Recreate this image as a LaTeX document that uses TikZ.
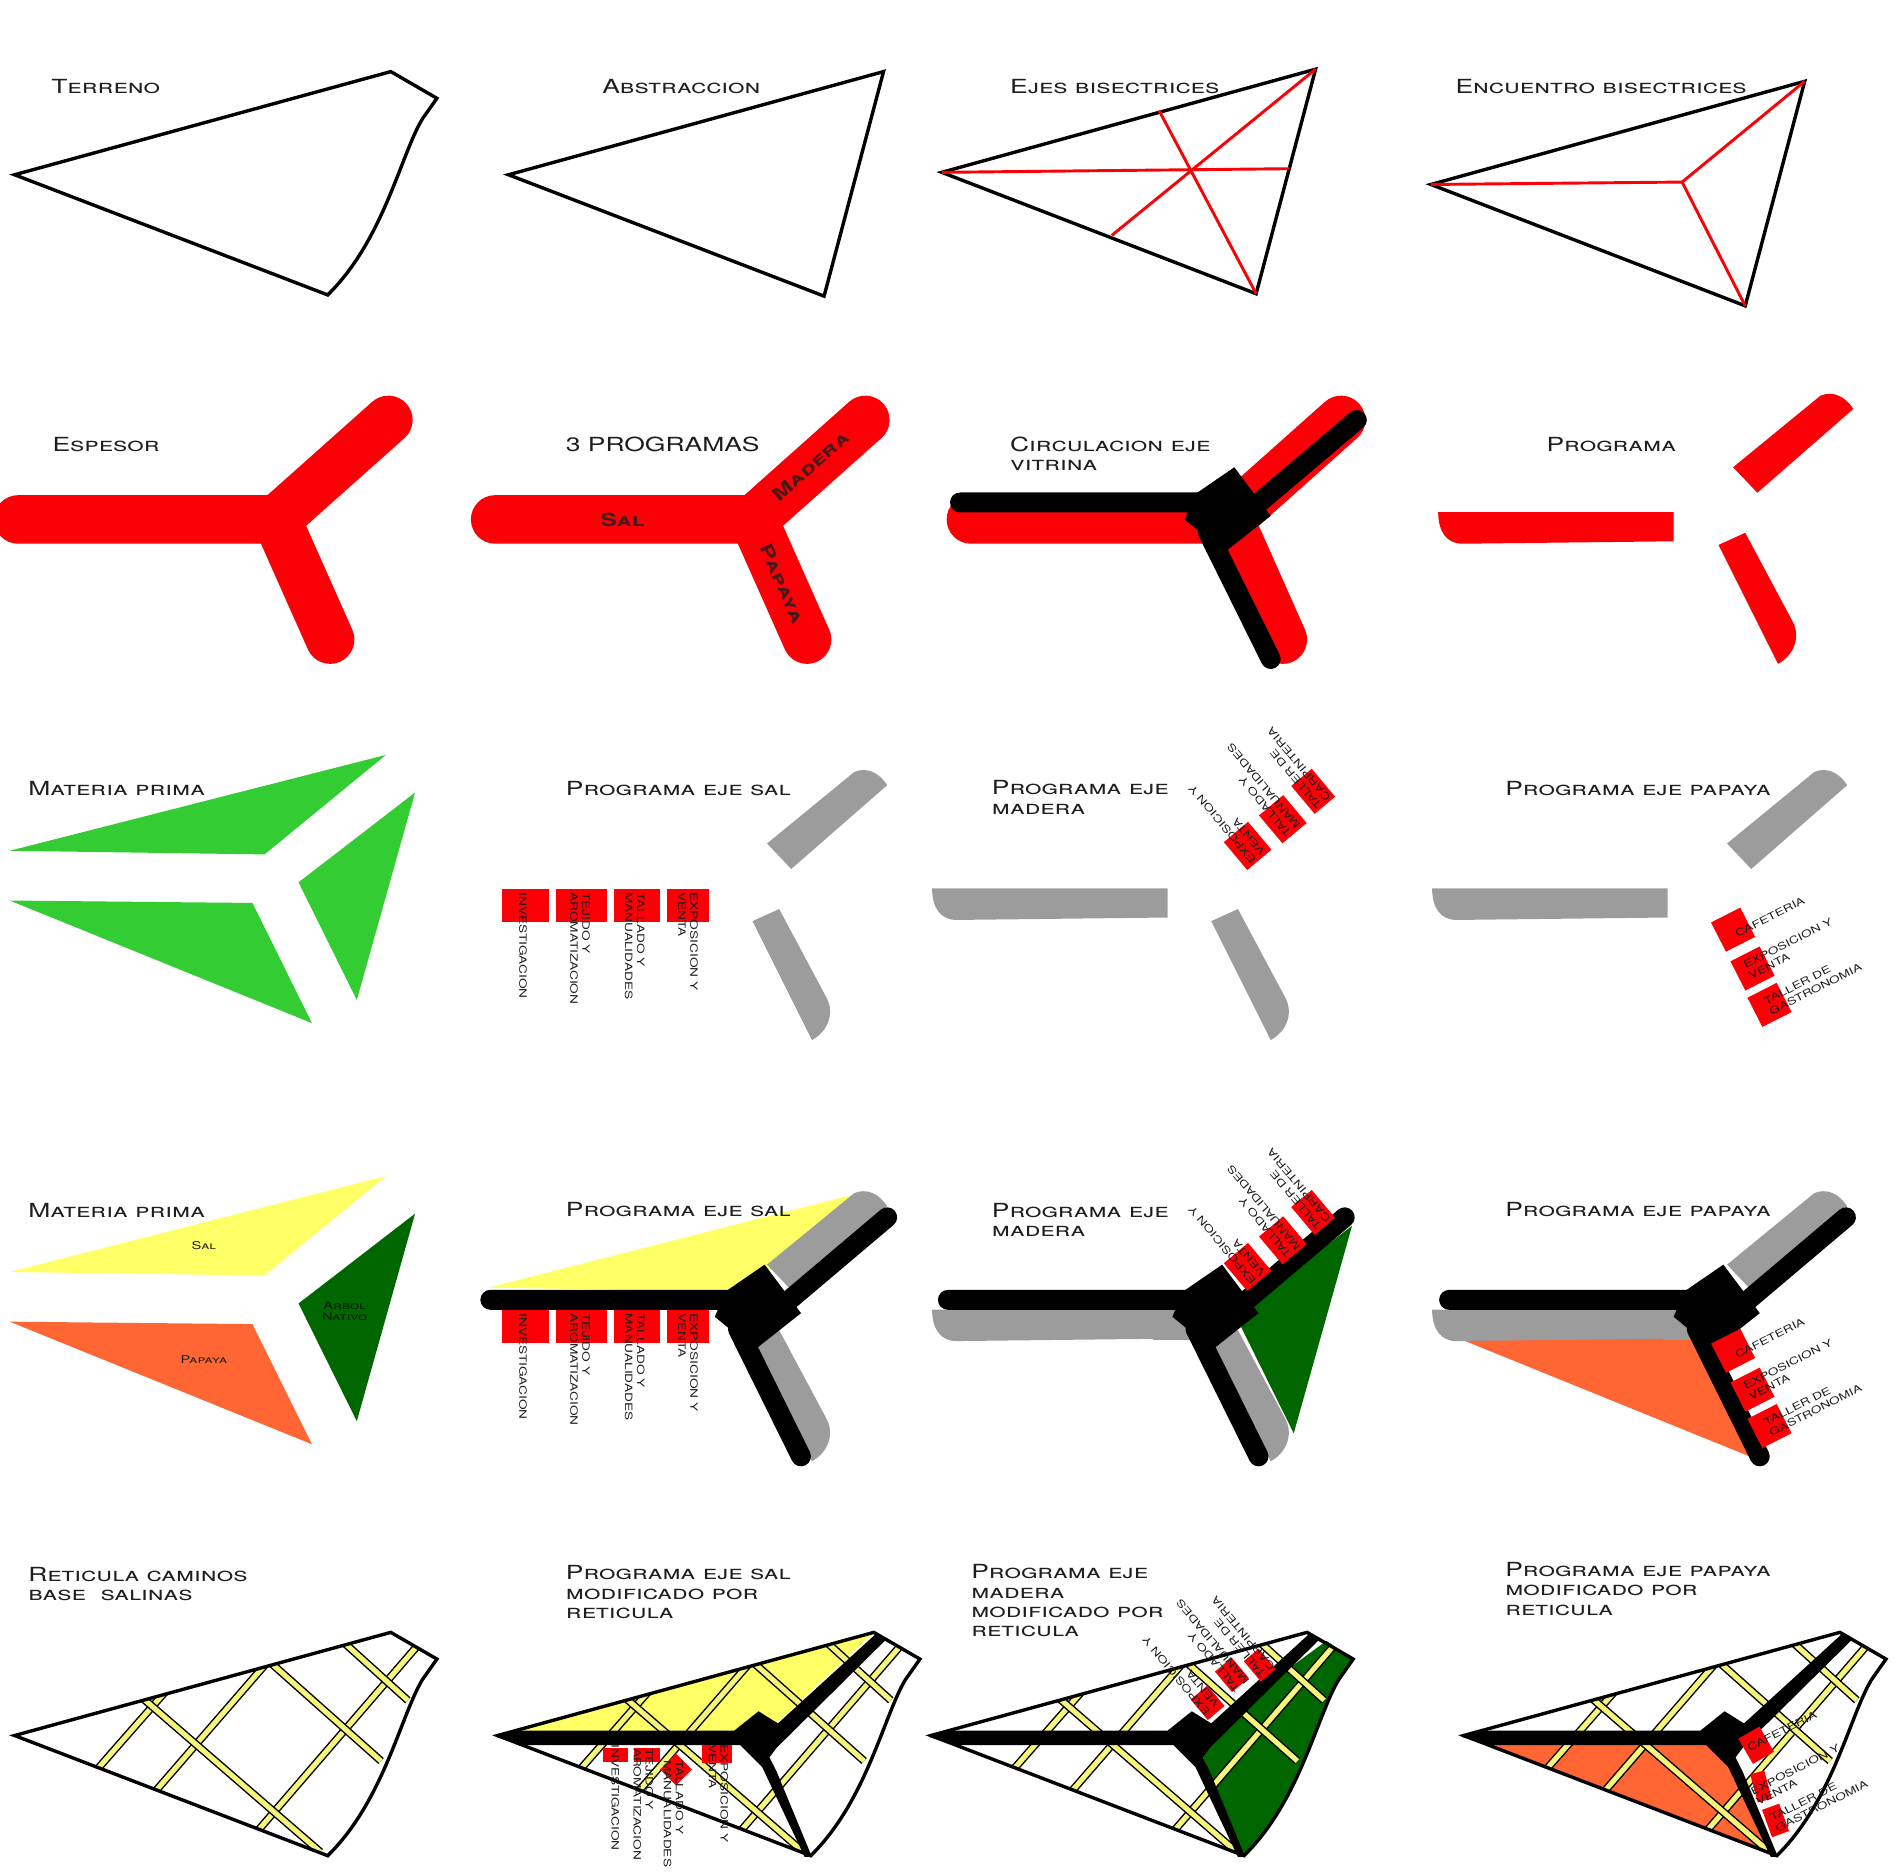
\documentclass[tikz,border=0pt]{standalone}
\usepackage{fontspec}
\usepackage{tikz}
\usetikzlibrary{arrows.meta,positioning}
\newfontfamily\capfont[FakeStretch=1.36]{TeX Gyre Heros}
\definecolor{rojo}{HTML}{FB0006}
\definecolor{gris}{HTML}{9C9C9C}
\definecolor{verde}{HTML}{33CC33}
\definecolor{amarillo}{HTML}{FFFF66}
\definecolor{naranja}{HTML}{FF6633}
\definecolor{verdeosc}{HTML}{006600}
\definecolor{camino}{HTML}{F5F57A}
\definecolor{tinta}{HTML}{1E1E1E}
\tikzset{
  titulo/.style = {font=\capfont\scshape\fontsize{11.4}{11.4}\selectfont, text=tinta,
                   anchor=west, align=left, inner sep=0pt},
  etiq/.style   = {font=\capfont\fontsize{5.9}{7}\selectfont, text=tinta,
                   anchor=west, align=left, inner sep=0pt},
  brazo/.style  = {font=\capfont\scshape\bfseries\fontsize{10.6}{11}\selectfont, text=tinta!80!rojo, inner sep=0pt},
  rotulo/.style = {font=\capfont\scshape\fontsize{6.3}{6.4}\selectfont, text=tinta, align=center, inner sep=0pt},
  cuadro/.style = {fill=rojo, inner sep=0pt},
  borde/.style  = {draw=black, line width=0.7mm, line join=miter},
  eje/.style    = {draw=rojo, line width=0.6mm},
  espesor/.style= {draw=rojo, line width=10mm, line cap=round, line join=round},
  via/.style    = {line width=4.1mm, line cap=round, line join=round, draw=black},
  malla/.style  = {draw=black, line width=0.3mm, double=camino, double distance=1.05mm},
}
% outline of the site, first panel of the last row
\newcommand{\terreno}[1]{\draw[borde,shift={(#1)}] (12,1430) -- (322,1345) -- (360,1367) -- (348,1384)
  .. controls (330,1414) and (316,1484) .. (270,1529) -- cycle;}
\newcommand{\reticula}[1]{\begin{scope}[shift={(#1)}]
  \clip (12,1430) -- (322,1345) -- (360,1367) -- (348,1384)
    .. controls (330,1414) and (316,1484) .. (270,1529) -- cycle;
  \foreach \xa/\ya/\xb/\yb in {137/1393/80/1458, 219/1371/128/1476, 344/1356/212/1509,
                               115/1397/264/1526, 223/1370/314/1451, 283/1353/336/1401}
    \draw[malla] (\xa,\ya) -- (\xb,\yb);
  \end{scope}}
\newcommand{\yforma}[1]{\draw[espesor,shift={(#1,0)}] (15,428) -- (228,428) -- (320,346) (228,428) -- (272,527);}
\newcommand{\circulacion}[1]{\begin{scope}[shift={(#1)}]
  \draw[via] (404,1071) -- (605,1071) (640,1080) -- (731,1003) (608,1095) -- (660,1200);
  \fill[black] (630,1042) -- (660,1082) -- (622,1112) -- (589,1085) -- (598,1064) -- cycle;
  \end{scope}}
\newcommand{\vialb}[1]{\fill[black,shift={(#1,0)}] (408,1431) -- (425,1426) -- (605,1426) -- (625,1410) -- (641,1420)
  -- (722,1346) -- (731,1350) -- (640,1440) -- (634,1448) -- (640,1460) -- (669,1530) -- (663,1530)
  -- (628,1456) -- (610,1438) -- (430,1438) -- cycle;}
\newcommand{\pzsal}[2]{\fill[#1,shift={(#2)}] (1185,422) -- (1379,422) -- (1379,446) -- (1205,448)
  .. controls (1192,448) and (1185,438) .. (1185,422) -- cycle;}
\newcommand{\pzmad}[2]{\fill[#1,shift={(#2)}] (1428,385) -- (1500,326) .. controls (1510,322) and (1520,326)
  .. (1527,337) -- (1448,406) -- cycle;}
\newcommand{\pzpap}[2]{\fill[#1,shift={(#2)}] (1416,449) -- (1438,439) -- (1477,512) .. controls (1484,525)
  and (1478,540) .. (1465,547) -- cycle;}
\newcommand{\trisal}[2]{\fill[#1,shift={(#2)}] (8,701) -- (318,622) -- (218,704) -- cycle;}
\newcommand{\tripap}[2]{\fill[#1,shift={(#2)}] (8,742) -- (208,744) -- (257,843) -- cycle;}
\newcommand{\trimad}[2]{\fill[#1,shift={(#2)}] (342,653) -- (294,824) -- (246,727) -- cycle;}
\begin{document}
\begin{tikzpicture}[x=0.025cm,y=-0.025cm]
  \useasboundingbox (0,0) rectangle (1568,1545);
  % first row
  \terreno{0,-1286}
  \draw[borde] (419,144) -- (728,59) -- (679,244) -- cycle;
  \draw[borde] (776,142) -- (1084,57) -- (1035,242) -- cycle;
  \draw[eje] (776,142) -- (1062,139) (1084,57) -- (916,194) (1035,242) -- (955,91);
  \draw[borde] (1179,152) -- (1487,67) -- (1438,252) -- cycle;
  \draw[eje] (1179,152) -- (1386,150) -- (1487,67) (1386,150) -- (1438,252);
  % second row
  \yforma{0}
  \yforma{393}
  \yforma{785}
  \circulacion{387,-657}
  \pzsal{rojo}{0,0}
  \pzmad{rojo}{0,0}
  \pzpap{rojo}{0,0}
  \node[brazo] (nsal) at (513,428) {Sal};
  \node[brazo,rotate=41] (nmad) at (668,384) {Madera};
  \node[brazo,rotate=-66] (npap) at (645,481) {Papaya};
  % third row
  \trisal{verde}{0,0}
  \tripap{verde}{0,0}
  \trimad{verde}{0,0}
  % fourth row, materials under the grey pieces
  \trisal{amarillo}{0,347}
  \tripap{naranja}{0,347}
  \trimad{verdeosc}{0,347}
  \trisal{amarillo}{394,360}
  \trimad{verdeosc}{772,357}
  \tripap{naranja}{1187,358}
  \foreach \dy in {310,657}{%
    \pzmad{gris}{-796,\dy}
    \pzpap{gris}{-796,\dy}
    \pzsal{gris}{-417,\dy}
    \pzpap{gris}{-418,\dy}
    \pzsal{gris}{-5,\dy}
    \pzmad{gris}{-5,\dy}}
  \fill[gris] (950,1079) rectangle (985,1104);
  \fill[gris] (1370,1079) rectangle (1395,1104);
  \circulacion{0,0}
  \circulacion{377,0}
  \circulacion{790,0}
  \node[rotulo] (nsal2) at (168,1026) {Sal};
  \node[rotulo] (npap2) at (168,1120) {Papaya};
  \node[rotulo,text=black!75!verdeosc] (narb) at (284,1080) {Arbol\\Nativo};
  % programme squares, rows three and four
  \foreach \dy in {0,347}{%
    \foreach \x/\w/\tx/\lb [count=\i] in {433/38/431/INVESTIGACION,
                                          479/42/478/{TEJIDO Y\\AROMATIZACION},
                                          525/38/523/{TALLADO Y\\MANUALIDADES},
                                          567/35/567/{EXPOSICION Y\\VENTA}}{%
      \node[cuadro,minimum width=\w*0.25mm,minimum height=6.75mm] (sq\i r\dy) at (\x,746+\dy) {};
      \node[etiq,rotate=-90] (et\i r\dy) at (\tx,735+\dy) {\lb};}
    \foreach \x/\y/\w/\tx/\ty/\lb [count=\i] in {1028/697/26/1037/707/{EXPOSICION Y\\VENTA},
                                                 1057/675/26/1066/685/{TALLADO Y\\MANUALIDADES},
                                                 1082/652/22/1091/662/{TALLER DE\\CARPINTERIA}}{%
      \node[cuadro,rotate=40,minimum width=\w*0.25mm,minimum height=7.5mm] (sm\i r\dy) at (\x,\y+\dy) {};
      \node[etiq,rotate=130] (em\i r\dy) at (\tx,\ty+\dy) {\lb};}
    \foreach \x/\y/\tx/\ty/\lb [count=\i] in {1428/766/1430/770/CAFETERIA,
                                              1444/798/1439/800/{EXPOSICION Y\\VENTA},
                                              1458/828/1456/830/{TALLER DE\\GASTRONOMIA}}{%
      \node[cuadro,rotate=27,minimum size=6.75mm] (sp\i r\dy) at (\x,\y+\dy) {};
      \node[etiq,rotate=27] (ep\i r\dy) at (\tx,\ty+\dy) {\lb};}}
  % last row
  \fill[amarillo] (410,1430) -- (720,1345) -- (640,1420) -- (605,1428) -- cycle;
  \fill[verdeosc] (1093,1352) -- (1115,1367) -- (1103,1384) .. controls (1085,1414) and (1071,1484)
    .. (1025,1529) -- (990,1445) -- (1000,1420) -- cycle;
  \fill[naranja] (1206,1431) -- (1410,1438) -- (1432,1458) -- (1461,1527) -- cycle;
  \foreach \dx in {0,398,755,1194}{%
    \reticula{\dx,0}
    \terreno{\dx,0}}
  \vialb{0}
  \vialb{357}
  \vialb{796}
  \node[cuadro,minimum width=5.25mm,minimum height=3mm] (q1) at (507,1446) {};
  \node[cuadro,minimum width=5.25mm,minimum height=3mm] (q2) at (533,1446) {};
  \node[cuadro,minimum size=4.6mm,rotate=45] (q3) at (557,1458) {};
  \node[cuadro,minimum width=6.25mm,minimum height=3.75mm] (q4) at (591,1445) {};
  \node[etiq,rotate=-90] (e1) at (507,1437) {INVESTIGACION};
  \node[etiq,rotate=-90] (e2) at (530,1440) {TEJIDO Y\\AROMATIZACION};
  \node[etiq,rotate=-90] (e3) at (555,1450) {TALLADO Y\\MANUALIDADES};
  \node[etiq,rotate=-90] (e4) at (592,1437) {EXPOSICION Y\\VENTA};
  \foreach \x/\y/\w/\tx/\ty/\lb [count=\i] in {995/1403/18/999/1409/{EXPOSICION Y\\VENTA},
                                               1015/1380/18/1024/1390/{TALLADO Y\\MANUALIDADES},
                                               1038/1372/16/1045/1378/{TALLER DE\\CARPINTERIA}}{%
    \node[cuadro,rotate=40,minimum width=\w*0.25mm,minimum height=5.5mm] (rm\i) at (\x,\y) {};
    \node[etiq,rotate=130] (rn\i) at (\tx,\ty) {\lb};}
  \node[cuadro,rotate=-60,minimum width=6mm,minimum height=5mm] (rp1) at (1447,1438) {};
  \node[cuadro,rotate=-75,minimum width=6mm,minimum height=3mm] (rp2) at (1451,1472) {};
  \node[cuadro,rotate=-70,minimum width=6mm,minimum height=3.75mm] (rp3) at (1463,1500) {};
  \node[etiq,rotate=27] (rq1) at (1440,1441) {CAFETERIA};
  \node[etiq,rotate=27] (rq2) at (1445,1481) {EXPOSICION Y\\VENTA};
  \node[etiq,rotate=27] (rq3) at (1461,1503) {TALLER DE\\GASTRONOMIA};
  % panel titles
  \foreach \x/\y/\txt [count=\i] in {42/71/Terreno, 496/71/Abstraccion, 832/71/Ejes bisectrices,
      1199/71/Encuentro bisectrices, 43/366/Espesor, 466/366/3 PROGRAMAS,
      832/374/{Circulacion eje\\vitrina}, 1274/366/Programa, 23/650/Materia prima,
      466/650/Programa eje sal, 817/657/{Programa eje\\madera}, 1240/650/Programa eje papaya,
      23/997/Materia prima, 466/997/Programa eje sal, 817/1005/{Programa eje\\madera},
      1240/997/Programa eje papaya, 23/1305/{Reticula caminos\\base\ \ salinas},
      466/1312/{Programa eje sal\\modificado por\\reticula},
      800/1319/{Programa eje\\madera\\modificado por\\reticula},
      1240/1309/{Programa eje papaya\\modificado por\\reticula}}{%
    \node[titulo] (tit\i) at (\x,\y) {\txt};}
\end{tikzpicture}
\end{document}
